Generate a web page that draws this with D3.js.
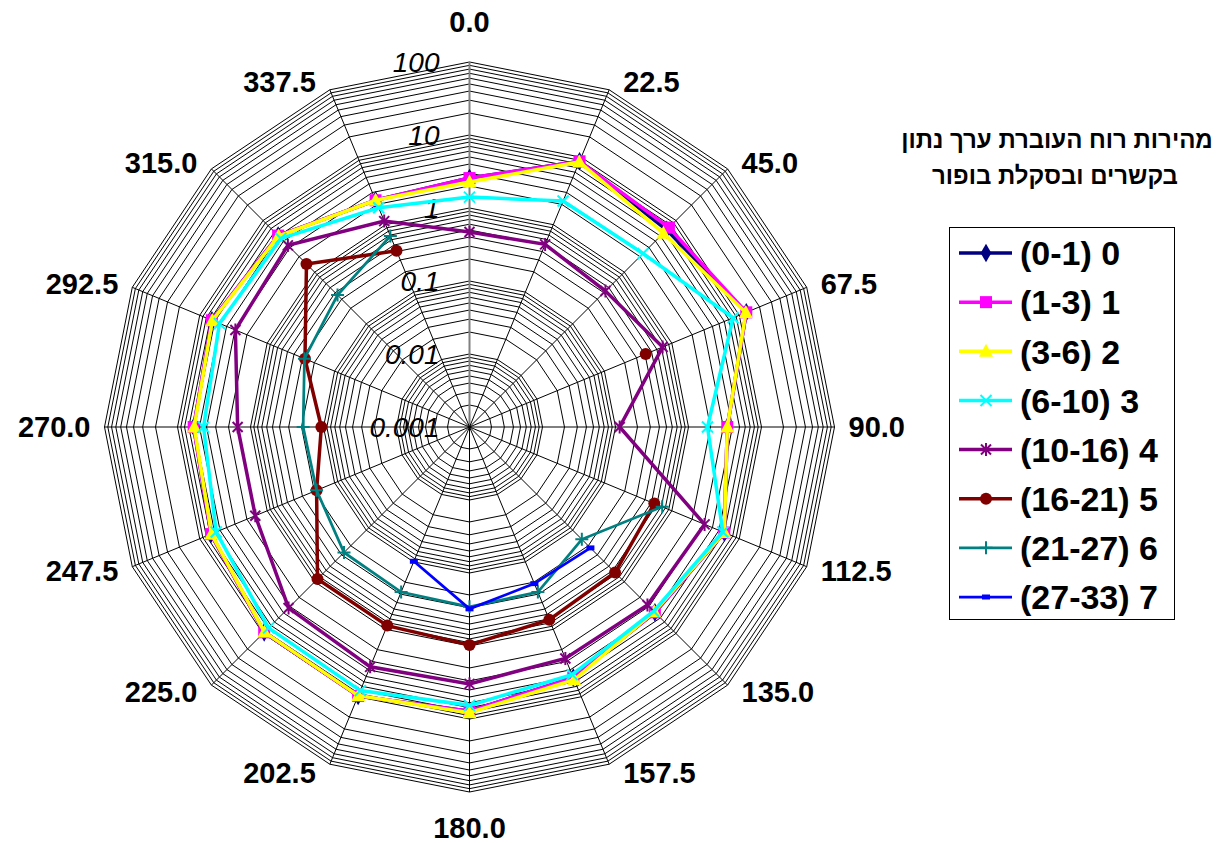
<!DOCTYPE html>
<html>
<head>
<meta charset="utf-8">
<script src="https://cdn.jsdelivr.net/npm/d3@7"></script>
<style>
  body { margin: 0; background: #fff; }
  svg { display: block; font-family: 'Liberation Sans', Arial, sans-serif; }
</style>
</head>
<body>
<svg></svg>
<script>
const size = {w: 1218, h: 843};
const center = {x: 469.5, y: 427};
const radius = 365;

// directions (degrees)
const directions = ['0.0', '22.5', '45.0', '67.5', '90.0', '112.5', '135.0', '157.5',
    '180.0', '202.5', '225.0', '247.5', '270.0', '292.5', '315.0', '337.5'];
const axisTicks = [0.001, 0.01, 0.1, 1, 10, 100];
const axisTickLabels = ['0.001', '0.01', '0.1', '1', '10', '100'];

const seriesNames = ['(0-1) 0', '(1-3) 1', '(3-6) 2', '(6-10) 3', '(10-16) 4', '(16-21) 5', '(21-27) 6', '(27-33) 7'];

// percentage of time per direction for each Beaufort class (null = no value)
const s0 = [2.57, 8.7, 6.6, 12.7, 3.4, 6.0, 3.9, 5.2, 7.8, 9.7, 9.5, 6.8, 6.0, 6.6, 5.1, 2.3];
const s1 = [2.57, 8.7, 7.3, 12.7, 3.4, 6.0, 3.9, 5.2, 7.8, 9.7, 9.5, 6.8, 6.0, 6.6, 5.1, 2.3];
const s2 = [2.27, 8.5, 5.7, 12.5, 3.4, 6.0, 3.8, 5.6, 8.2, 9.6, 9.4, 6.7, 5.9, 6.5, 5.0, 2.3];
const s3 = [1.41, 2.24, 2.3, 8.1, 1.82, 5.7, 3.7, 4.7, 6.5, 8.1, 7.8, 5.7, 4.4, 5.1, 4.5, 1.78];
const s4 = [0.47, 0.51, 0.43, 0.73, 0.114, 3.06, 2.8, 2.7, 3.3, 3.6, 3.2, 1.5, 1.5, 2.96, 3.3, 1.13];
const s5 = [null, null, null, 0.41, null, 0.55, 0.66, 0.72, 0.97, 0.88, 0.88, 0.185, 0.107, 0.275, 1.44, 0.41];
const s6 = [null, null, null, null, null, 0.72, 0.15, 0.28, 0.29, 0.28, 0.27, 0.185, 0.19, 0.28, 0.36, 0.68];
const s7 = [null, null, null, null, null, null, 0.22, 0.21, 0.31, 0.098, null, null, null, null, null, null];

const seriesValues = [s0, s1, s2, s3, s4, s5, s6, s7];
const seriesColors = ['#000080', '#ff00ff', '#ffff00', '#00ffff', '#800080', '#800000', '#008080', '#0000ff'];
const seriesMarkers = ['diamond', 'square', 'triangle', 'x', 'star', 'circle', 'plus', 'dash'];

const svg = d3.select('svg')
    .attr('width', size.w)
    .attr('height', size.h);

const r = d3.scaleLog().domain([0.001, 100]).range([0, radius]);
const angle = d3.scaleLinear().domain([0, directions.length]).range([0, 2 * Math.PI]);

function pt(i, v) {
    let a = angle(i), rr = r(v);
    return [center.x + rr * Math.sin(a), center.y - rr * Math.cos(a)];
}

// ---- grid ----
let gridVals = [];
for (let d = 0.001; d < 50; d *= 10) {
    for (let k = 1; k <= 9; k++) {
        if (d === 0.001 && k === 1) continue;
        gridVals.push(+(k * d).toPrecision(3));
    }
}
gridVals.push(100);

const grid = svg.append('g').attr('class', 'grid');
grid.selectAll('path.ring')
    .data(gridVals)
    .enter()
    .append('path')
    .attr('class', 'ring')
    .attr('d', v => d3.line()(directions.map((_, i) => pt(i, v))) + 'Z')
    .attr('fill', 'none')
    .attr('stroke', '#000')
    .attr('stroke-width', 1);

grid.selectAll('line.spoke')
    .data(directions)
    .enter()
    .append('line')
    .attr('class', 'spoke')
    .attr('x1', center.x).attr('y1', center.y)
    .attr('x2', (d, i) => pt(i, 100)[0])
    .attr('y2', (d, i) => pt(i, 100)[1])
    .attr('stroke', (d, i) => i === 0 ? '#808080' : '#000')
    .attr('stroke-width', (d, i) => i === 0 ? 2 : 1);

// axis labels
svg.append('g').selectAll('text')
    .data(axisTicks)
    .enter()
    .append('text')
    .attr('x', center.x - 30)
    .attr('y', v => center.y - r(v))
    .attr('dy', '0.36em')
    .attr('text-anchor', 'end')
    .style('font-size', '28px')
    .style('font-style', 'italic')
    .text((v, i) => axisTickLabels[i]);

// direction labels
svg.append('g').selectAll('text')
    .data(directions)
    .enter()
    .append('text')
    .attr('x', (d, i) => {
        let a = angle(i), p = pt(i, 100), s = Math.sin(a);
        if (Math.abs(s) < 0.01) return p[0];
        return p[0] + (s > 0 ? 14 : -14);
    })
    .attr('y', (d, i) => {
        let a = angle(i), p = pt(i, 100), c = Math.cos(a);
        if (Math.abs(c) > 0.99) return p[1] + (c > 0 ? -40 : 36);
        return p[1] - 9 * c;
    })
    .attr('dy', '0.36em')
    .attr('text-anchor', (d, i) => {
        let s = Math.sin(angle(i));
        if (Math.abs(s) < 0.01) return 'middle';
        return s > 0 ? 'start' : 'end';
    })
    .style('font-size', '29px')
    .style('font-weight', 'bold')
    .text(d => d);

// ---- markers ----
function drawMarker(g, type, color) {
    if (type === 'diamond') {
        g.append('path').attr('d', d3.symbol(d3.symbolDiamond, 100)()).attr('fill', color);
    } else if (type === 'square') {
        g.append('rect').attr('x', -6).attr('y', -6).attr('width', 12).attr('height', 12).attr('fill', color);
    } else if (type === 'triangle') {
        g.append('path').attr('d', 'M0,-7.5L7,5.5L-7,5.5Z').attr('fill', color);
    } else if (type === 'circle') {
        g.append('circle').attr('r', 6).attr('fill', color);
    } else if (type === 'x') {
        g.append('path').attr('d', 'M-5.5,-5.5L5.5,5.5M-5.5,5.5L5.5,-5.5').attr('stroke', color).attr('stroke-width', 2);
    } else if (type === 'star') {
        g.append('path').attr('d', 'M-5,-5L5,5M-5,5L5,-5M0,-6.5L0,6.5').attr('stroke', color).attr('stroke-width', 2);
    } else if (type === 'plus') {
        g.append('path').attr('d', 'M-6.5,0L6.5,0M0,-6.5L0,6.5').attr('stroke', color).attr('stroke-width', 2);
    } else if (type === 'dash') {
        g.append('rect').attr('x', -4).attr('y', -2.5).attr('width', 8).attr('height', 5).attr('fill', color);
    }
}

// ---- series ----
const line = d3.line()
    .defined(d => d.v != null)
    .x(d => d.p[0])
    .y(d => d.p[1]);

const plot = svg.append('g').attr('class', 'series');
seriesValues.forEach(function (vals, si) {
    let pts = vals.map((v, i) => ({v: v, p: v != null ? pt(i, v) : null}));
    let closed = pts.concat([pts[0]]);
    let g = plot.append('g');
    g.append('path')
        .attr('d', line(closed))
        .attr('fill', 'none')
        .attr('stroke', seriesColors[si])
        .attr('stroke-width', si >= 6 ? 2.75 : 3.5)
        .attr('stroke-linejoin', 'miter');
    pts.filter(d => d.v != null).forEach(function (d) {
        let m = g.append('g').attr('transform', 'translate(' + d.p[0] + ',' + d.p[1] + ')');
        drawMarker(m, seriesMarkers[si], seriesColors[si]);
    });
});

// ---- title ----
const title = svg.append('g')
    .style('font-size', '24px')
    .style('font-weight', 'bold')
    .attr('text-anchor', 'middle');
title.append('text').attr('x', 1057).attr('y', 148).text('מהירות רוח העוברת ערך נתון');
title.append('text').attr('x', 1055).attr('y', 184).text('בקשרים ובסקלת בופור');

// ---- legend ----
const legend = svg.append('g').attr('class', 'legend');
legend.append('rect')
    .attr('x', 949.5).attr('y', 227.5)
    .attr('width', 225).attr('height', 392)
    .attr('fill', '#fff')
    .attr('stroke', '#000')
    .attr('stroke-width', 1);

const rowY = d3.scalePoint().domain(seriesNames).range([253, 597]);
seriesNames.forEach(function (name, si) {
    let y = rowY(name);
    legend.append('line')
        .attr('x1', 959).attr('x2', 1012)
        .attr('y1', y).attr('y2', y)
        .attr('stroke', seriesColors[si])
        .attr('stroke-width', si >= 6 ? 2.75 : 3.5);
    let m = legend.append('g').attr('transform', 'translate(986,' + y + ')');
    drawMarker(m, seriesMarkers[si], seriesColors[si]);
    legend.append('text')
        .attr('x', 1020).attr('y', y)
        .attr('dy', '0.36em')
        .style('font-size', '34px')
        .style('font-weight', 'bold')
        .text(name);
});
</script>
</body>
</html>
